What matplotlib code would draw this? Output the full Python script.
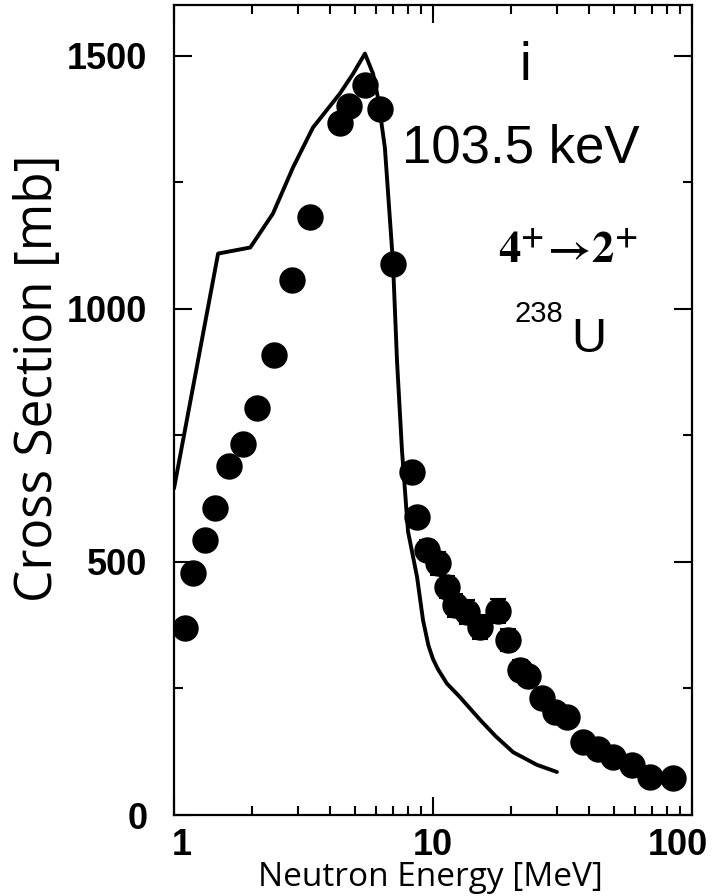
import matplotlib
matplotlib.use('Agg')
import matplotlib.pyplot as plt
import matplotlib.transforms as mtransforms
from matplotlib.ticker import LogLocator, MultipleLocator, NullFormatter, FixedLocator, FixedFormatter

# measured cross sections (filled circles)
energy_exp = [1.10, 1.18, 1.32, 1.44, 1.63, 1.85, 2.09, 2.43, 2.85, 3.35,
              4.37, 4.75, 5.46, 6.24, 7.01, 8.30, 8.68, 9.48, 10.45, 11.3,
              12.2, 13.5, 15.2, 17.8, 19.5, 21.7, 23.3, 26.4, 29.6, 32.9,
              37.9, 43.4, 49.5, 58.7, 68.9, 84.5]
sigma_exp = [369, 478, 543, 606, 689, 732, 803, 908, 1056, 1182,
             1366, 1400, 1441, 1395, 1089, 677, 588, 523, 497, 450,
             414, 401, 371, 403, 345, 286, 274, 231, 203, 193,
             144, 130, 114, 99, 75, 73]
sigma_err = [0, 0, 0, 0, 0, 0, 0, 0, 0, 0,
             0, 0, 0, 0, 0, 0, 18, 20, 22, 22,
             22, 24, 24, 24, 22, 20, 18, 16, 14, 14,
             12, 12, 10, 10, 8, 8]

# calculation (solid line)
energy_calc = [1.0, 1.48, 1.97, 2.41, 2.88, 3.44, 4.37, 4.91, 5.46, 5.87,
               6.13, 6.52, 7.01, 7.26, 7.59, 8.01, 8.68, 9.15, 9.6, 10.0,
               10.45, 11.3, 12.7, 15.2, 17.5, 20.4, 25.2, 30.1]
sigma_calc = [645, 1109, 1121, 1188, 1279, 1358, 1425, 1464, 1504, 1464,
              1417, 1318, 1089, 898, 720, 560, 470, 385, 335, 308,
              288, 260, 233, 188, 155, 124, 99, 85]

W, H = 715, 896
fig = plt.figure(figsize=(W / 100, H / 100), dpi=100)
ax = fig.add_axes([174 / W, 1 - 815 / H, 518 / W, 810 / H])

ax.plot(energy_calc, sigma_calc, color='black', lw=2.8, solid_capstyle='round',
        solid_joinstyle='round', zorder=2)
ax.errorbar(energy_exp, sigma_exp, yerr=sigma_err, fmt='o', color='black',
            ms=18, elinewidth=1.5, capsize=6, capthick=1.5, zorder=3)

ax.set_xscale('log')
ax.set_xlim(1, 100)
ax.set_ylim(0, 1600)

ax.yaxis.set_major_locator(MultipleLocator(500))
ax.yaxis.set_minor_locator(MultipleLocator(250))
ax.xaxis.set_major_locator(FixedLocator([1, 10, 100]))
ax.xaxis.set_major_formatter(FixedFormatter(['1', '10', '100']))
ax.xaxis.set_minor_locator(LogLocator(base=10, subs=range(2, 10)))
ax.xaxis.set_minor_formatter(NullFormatter())

ax.tick_params(which='both', direction='in', top=True, right=True, width=1.5, color='black')
ax.tick_params(which='major', length=13)
ax.tick_params(which='minor', length=6.5)
ax.tick_params(axis='y', which='major', pad=19)
ax.tick_params(axis='x', which='major', pad=9)
for lab in ax.get_xticklabels() + ax.get_yticklabels():
    lab.set_fontfamily('Liberation Sans')
    lab.set_fontweight('bold')
    lab.set_fontsize(26)
for sp in ax.spines.values():
    sp.set_linewidth(1.6)

# nudge the end labels like in the original figure
xlabs = ax.get_xticklabels()
xlabs[0].set_transform(xlabs[0].get_transform() +
                       mtransforms.ScaledTranslation(8 / 100, 0, fig.dpi_scale_trans))
xlabs[-1].set_transform(xlabs[-1].get_transform() +
                        mtransforms.ScaledTranslation(-14 / 100, 0, fig.dpi_scale_trans))

def fx(x):
    return (x - 174) / 518

def fy(y):
    return (815 - y) / 810

ax.set_xlabel('Neutron Energy [MeV]', family='Open Sans', fontsize=24, va='baseline')
ax.xaxis.set_label_coords(fx(430), fy(886))
ax.set_ylabel('Cross Section [mb]', family='Open Sans', fontsize=37)
ax.yaxis.set_label_coords(fx(64), fy(378))

plt.rcParams['mathtext.fontset'] = 'stix'

ax.text(fx(525), fy(80), 'i', transform=ax.transAxes, ha='center', va='baseline',
        family='Liberation Sans', fontsize=38)
ax.text(fx(402), fy(162), '103.5 keV', transform=ax.transAxes, ha='left', va='baseline',
        family='Liberation Sans', fontsize=38)
ax.text(fx(498), fy(262), r'$\mathbf{4^{+}\!\rightarrow\!2^{+}}$', transform=ax.transAxes,
        ha='left', va='baseline', fontsize=32)
ax.text(fx(514), fy(322), '238', transform=ax.transAxes, ha='left', va='baseline',
        family='Liberation Sans', fontsize=21)
ax.text(fx(571), fy(352), 'U', transform=ax.transAxes, ha='left', va='baseline',
        family='Liberation Sans', fontsize=35)

fig.savefig('out.png', dpi=100)
